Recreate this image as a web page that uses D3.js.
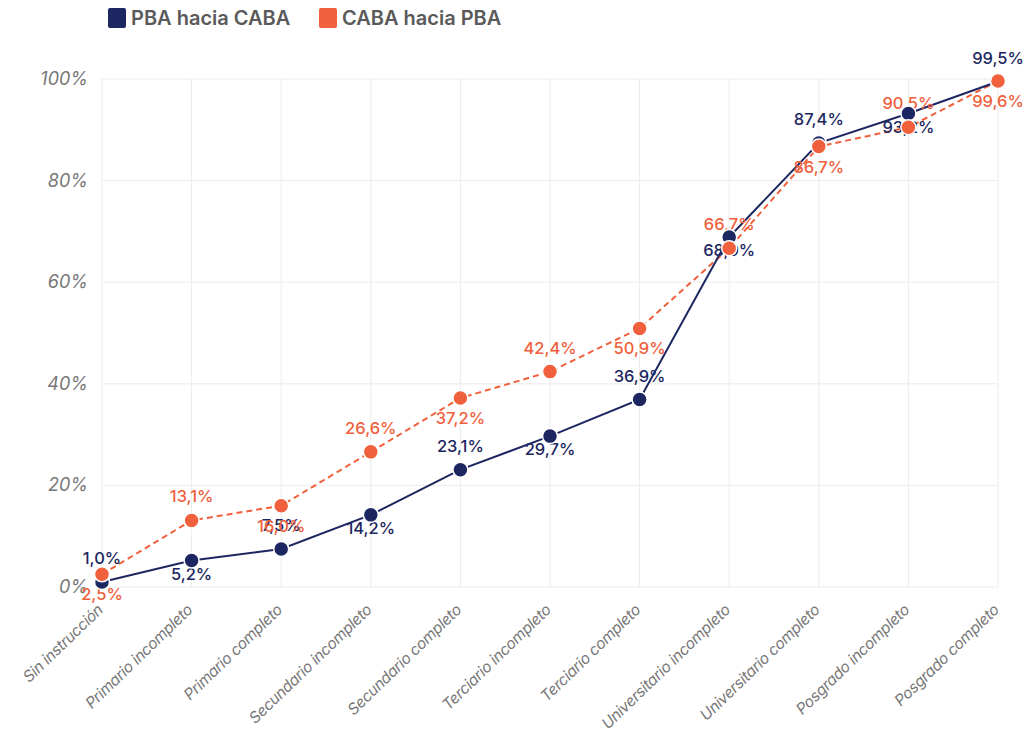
<html>
<head>
<meta charset="utf-8">
<script src="https://cdnjs.cloudflare.com/ajax/libs/d3/7.8.5/d3.min.js"></script>
<style>
  body { margin: 0; background: #fff; font-family: Inter, "Noto Sans", sans-serif; }
</style>
</head>
<body>
<script>
const categories = [
  'Sin instrucción', 'Primario incompleto', 'Primario completo',
  'Secundario incompleto', 'Secundario completo', 'Terciario incompleto',
  'Terciario completo', 'Universitario incompleto', 'Universitario completo',
  'Posgrado incompleto', 'Posgrado completo'
];
const pbaHaciaCaba = [1.0, 5.2, 7.5, 14.2, 23.1, 29.7, 36.9, 68.9, 87.4, 93.2, 99.5];
const cabaHaciaPba = [2.5, 13.1, 16.0, 26.6, 37.2, 42.4, 50.9, 66.7, 86.7, 90.5, 99.6];
const yTicks = [0, 20, 40, 60, 80, 100];

// labels alternate above/below; navy starts above, orange starts below
const series = [
  { name: 'PBA hacia CABA', values: pbaHaciaCaba, color: '#1c2660', dash: null, labelUpFirst: true, below: 19 },
  { name: 'CABA hacia PBA', values: cabaHaciaPba, color: '#f0603c', dash: '6,4', labelUpFirst: false, below: 26 }
];

const width = 1026, height = 736;
const svg = d3.select('body').append('svg').attr('width', width).attr('height', height);

const x = d3.scalePoint().domain(categories).range([102, 998]);
const y = d3.scaleLinear().domain([0, 100]).range([587, 79]);

// grid
svg.append('g').selectAll('line').data(yTicks).enter().append('line')
  .attr('x1', 102).attr('x2', 998)
  .attr('y1', d => y(d)).attr('y2', d => y(d))
  .attr('stroke', '#ececec').attr('stroke-width', 1);
svg.append('g').selectAll('line').data(categories).enter().append('line')
  .attr('x1', d => x(d)).attr('x2', d => x(d))
  .attr('y1', y(100)).attr('y2', y(0))
  .attr('stroke', '#ececec').attr('stroke-width', 1);

// y axis labels
svg.append('g').selectAll('text').data(yTicks).enter().append('text')
  .attr('x', 88).attr('y', d => y(d) + 6)
  .attr('text-anchor', 'end')
  .attr('font-size', 18).attr('font-style', 'italic')
  .attr('fill', '#777')
  .text(d => d + '%');

// x axis labels
svg.append('g').selectAll('text').data(categories).enter().append('text')
  .attr('transform', d => `translate(${x(d) + 2},${y(0) + 24}) rotate(-44)`)
  .attr('text-anchor', 'end')
  .attr('font-size', 15.5).attr('font-style', 'italic')
  .attr('letter-spacing', -0.3)
  .attr('fill', '#777')
  .text(d => d);

// lines
const line = d3.line().x((d, i) => x(categories[i])).y(d => y(d));
series.slice().reverse().forEach(s => {
  svg.append('path').datum(s.values)
    .attr('d', line)
    .attr('fill', 'none')
    .attr('stroke', s.color)
    .attr('stroke-width', 2)
    .attr('stroke-dasharray', s.dash);
});

// value labels (drawn under the points)
const fmt = v => v.toFixed(1).replace('.', ',') + '%';
series.forEach(s => {
  svg.append('g').selectAll('text').data(s.values).enter().append('text')
    .attr('x', (d, i) => x(categories[i]))
    .attr('y', (d, i) => {
      const up = (i % 2 === 0) === s.labelUpFirst;
      return up ? y(d) - 18 : y(d) + s.below;
    })
    .attr('text-anchor', 'middle')
    .attr('font-size', 16.5).attr('font-weight', 500)
    .attr('fill', s.color)
    .text(d => fmt(d));
});

// points
series.forEach(s => {
  svg.append('g').selectAll('circle').data(s.values).enter().append('circle')
    .attr('cx', (d, i) => x(categories[i]))
    .attr('cy', d => y(d))
    .attr('r', 7.5)
    .attr('fill', s.color)
    .attr('stroke', '#fff').attr('stroke-width', 1.5);
});

// legend
const legendX = [108, 319];
series.forEach((s, i) => {
  const g = svg.append('g').attr('transform', `translate(${legendX[i]},8)`);
  g.append('rect').attr('width', 18).attr('height', 20).attr('rx', 2).attr('fill', s.color);
  g.append('text').attr('x', 23).attr('y', 17)
    .attr('font-size', 20).attr('font-weight', 600)
    .attr('fill', '#5a5a5a')
    .text(s.name);
});
</script>
</body>
</html>
